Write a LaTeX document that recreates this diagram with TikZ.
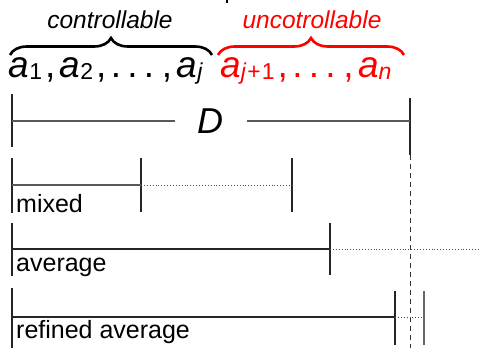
\documentclass[tikz,border=0pt]{standalone}
\usepackage{fontspec}
\setmainfont{Liberation Sans}
\usetikzlibrary{decorations.pathreplacing}
\newcommand{\mysub}[1]{\raisebox{-2.5pt}{\fontsize{23}{23}\selectfont\upshape #1}\hspace{3pt}}
\newcommand{\ia}{\textit{a}}
\newcommand{\cm}{,\hspace{4.5pt}}
\newcommand{\mydots}{.\hspace{6.2pt}.\hspace{6.2pt}.\hspace{7.7pt}}
\begin{document}
\begin{tikzpicture}[x=1pt,y=-1pt,
  tick/.style={line width=1.1pt, black!85},
  bar/.style={line width=1.1pt, black!65},
  dotline/.style={dotted, line width=0.9pt, black!70},
  lbl/.style={font=\fontsize{25}{25}\selectfont, anchor=base west, inner sep=0pt},
  grp/.style={font=\fontsize{24.5}{24.5}\selectfont\itshape, anchor=base, inner sep=0pt},
  mathtxt/.style={font=\fontsize{37}{37}\selectfont, anchor=base west, inner sep=0pt},
  brc/.style={decorate, decoration={brace, amplitude=17pt}, line width=2.6pt}]
\useasboundingbox (0,0) rectangle (480,348);
% tiny clipped mark at top
\draw[line width=1.2pt] (227,0) -- (227,3);
% group labels
\node[grp] (ctl) at (110,28) {controllable};
\node[grp, red] (unc) at (312,28) {uncotrollable};
% sequences
\node[mathtxt] (seqA) at (8.5,77) {\ia\mysub{1}\cm\ia\mysub{2}\cm\mydots\cm\ia\mysub{\itshape j}};
\node[mathtxt, red] (seqB) at (220,77) {\ia\mysub{\itshape j\hspace{1.5pt}\upshape +\hspace{1pt}1}\cm\mydots\cm\ia\mysub{\itshape n}};
% braces
\coordinate (b1l) at (10,55); \coordinate (b1r) at (212,55);
\coordinate (b2l) at (218,55); \coordinate (b2r) at (404,55);
\draw[brc] (b1l) -- (b1r);
\draw[brc, red] (b2l) -- (b2r);
% D span
\coordinate (d0t) at (12,94); \coordinate (d0b) at (12,147);
\coordinate (d1t) at (410,98); \coordinate (d1b) at (410,155);
\coordinate (d0) at (12,121); \coordinate (d1) at (410,121);
\coordinate (dg0) at (175,121); \coordinate (dg1) at (247,121);
\node[font=\fontsize{36}{36}\selectfont\itshape, inner sep=0pt] (D) at (210,121) {D};
\draw[tick] (d0t) -- (d0b);
\draw[tick] (d1t) -- (d1b);
\draw[bar] (d0) -- (dg0);
\draw[bar] (dg1) -- (d1);
\coordinate (dashend) at (410,348);
\draw[dashed, line width=1pt, black!80, dash pattern=on 5pt off 4pt] (d1b) -- (dashend);
% mixed
\coordinate (m0t) at (12,158); \coordinate (m0b) at (12,213);
\coordinate (m1t) at (141,158); \coordinate (m1b) at (141,212);
\coordinate (m2t) at (292,158); \coordinate (m2b) at (292,212);
\coordinate (m0) at (12,185); \coordinate (m1) at (141,185); \coordinate (m2) at (292,185);
\draw[tick] (m0t) -- (m0b);
\draw[tick] (m1t) -- (m1b);
\draw[tick] (m2t) -- (m2b);
\draw[bar] (m0) -- (m1);
\draw[dotline] (m1) -- (m2);
\node[lbl] (mixed) at (16,212) {mixed};
% average
\coordinate (a0t) at (12,223); \coordinate (a0b) at (12,276);
\coordinate (a1t) at (330,223); \coordinate (a1b) at (330,275);
\coordinate (a0) at (12,249); \coordinate (a1) at (330,249); \coordinate (a2) at (480,249);
\draw[tick] (a0t) -- (a0b);
\draw[tick] (a1t) -- (a1b);
\draw[line width=1.1pt, black!85] (a0) -- (a1);
\draw[dotline] (a1) -- (a2);
\node[lbl] (avg) at (16,271) {average};
% refined average
\coordinate (r0t) at (12,288); \coordinate (r0b) at (12,348);
\coordinate (r1t) at (395,291); \coordinate (r1b) at (395,345);
\coordinate (r2t) at (424,291); \coordinate (r2b) at (424,345);
\coordinate (r0) at (12,317); \coordinate (r1) at (395,317); \coordinate (r2) at (424,317);
\draw[tick] (r0t) -- (r0b);
\draw[tick] (r1t) -- (r1b);
\draw[tick, black!60] (r2t) -- (r2b);
\draw[line width=1.1pt, black!85] (r0) -- (r1);
\draw[dotline] (r1) -- (r2);
\node[lbl] (ravg) at (16,338) {refined average};
\end{tikzpicture}
\end{document}
